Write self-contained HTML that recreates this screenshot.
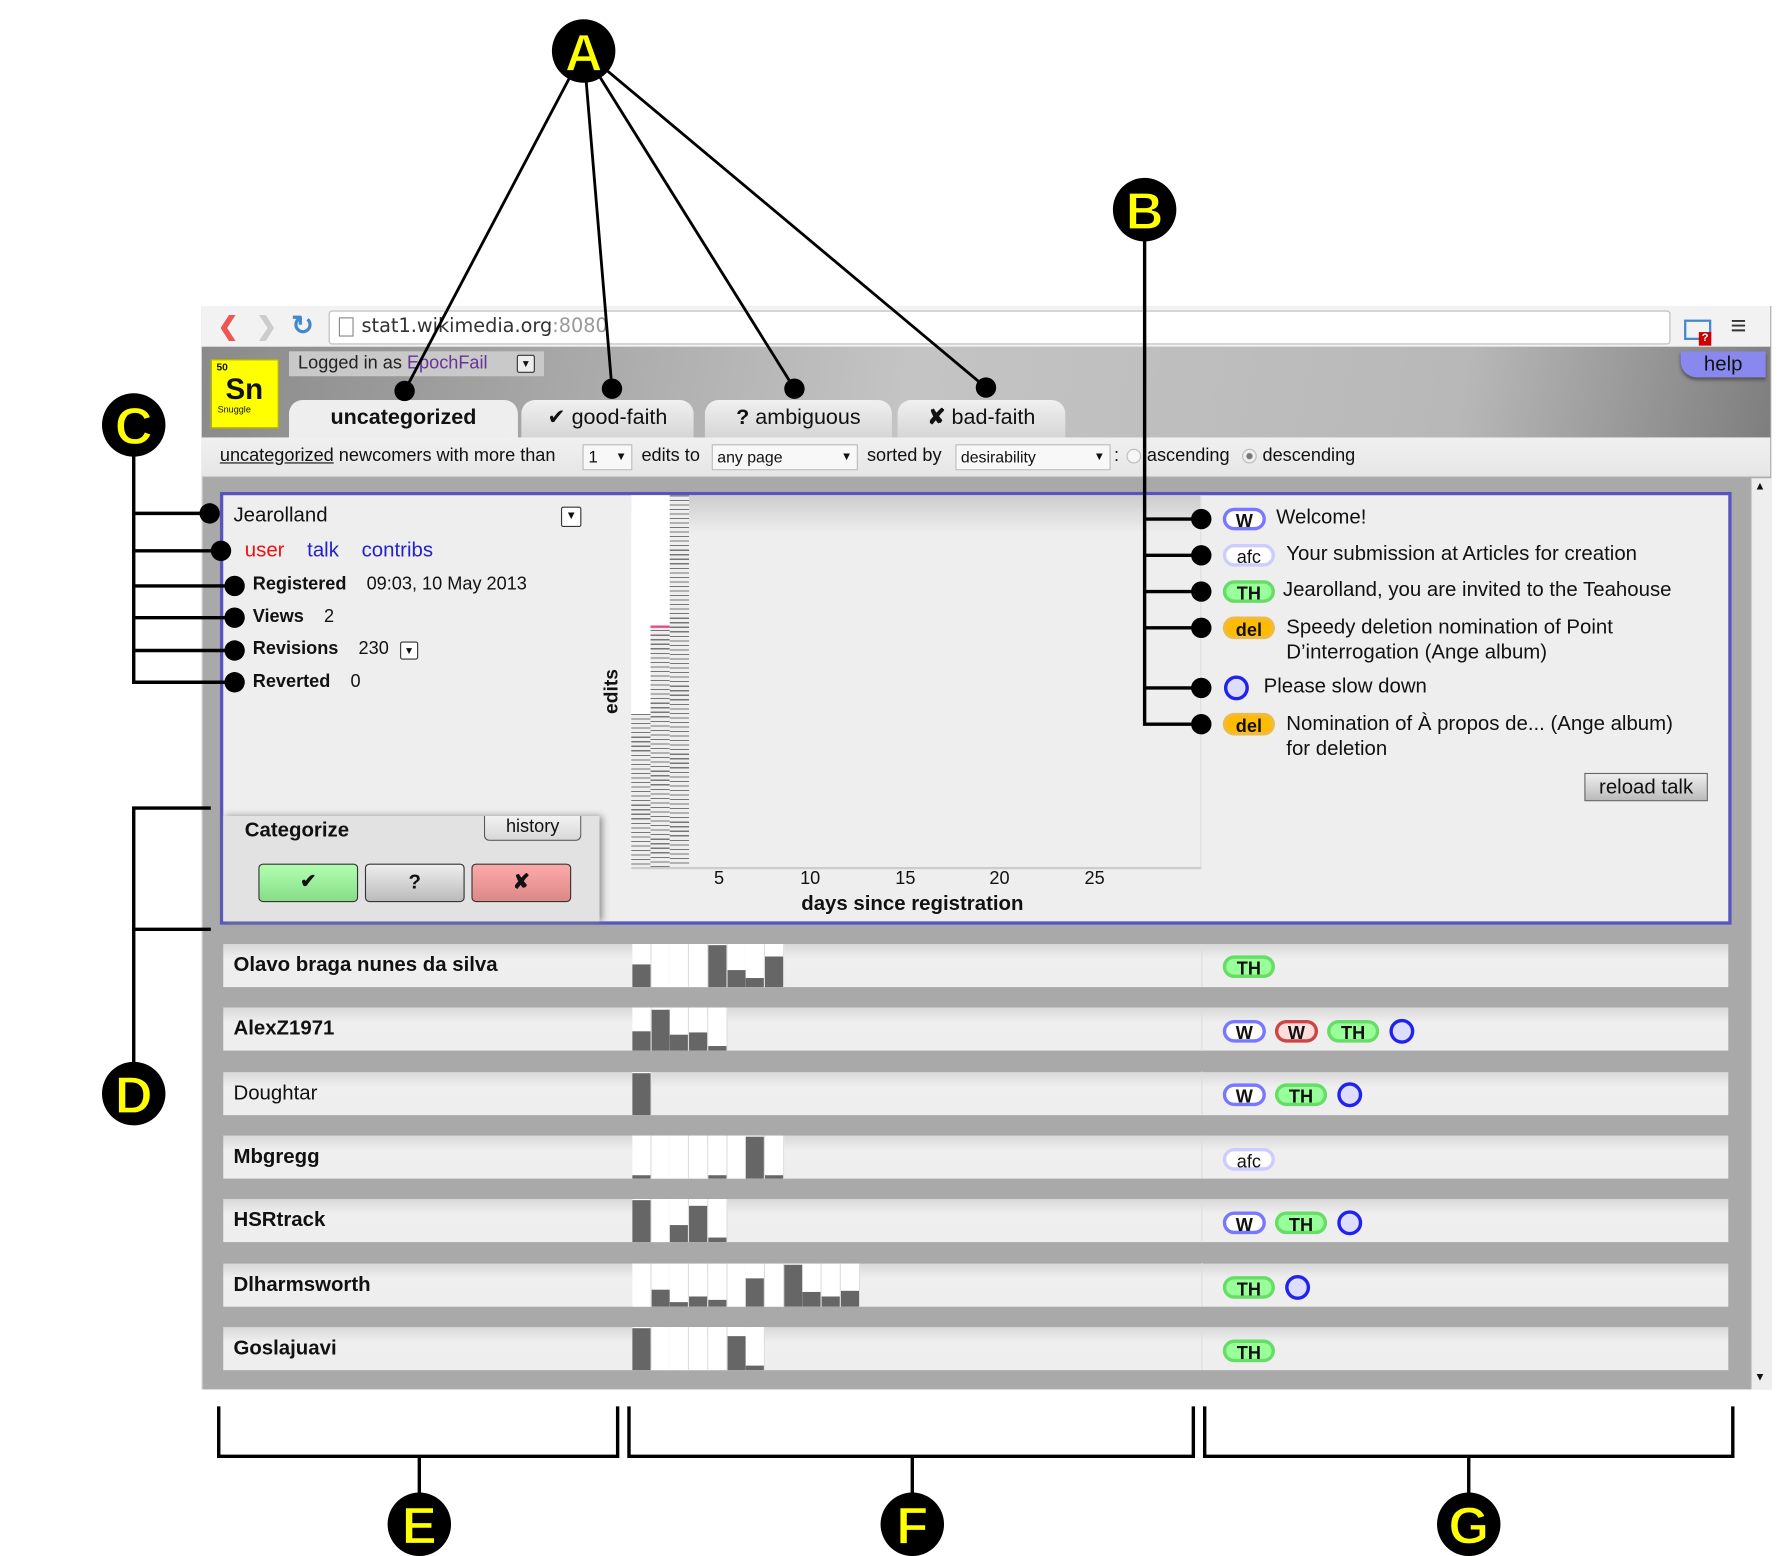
<!DOCTYPE html>
<html><head><meta charset="utf-8">
<style>
html,body{margin:0;padding:0;background:#fff;width:1777px;height:1556px;overflow:hidden}
#w{position:absolute;left:0;top:0;width:1568px;height:1373px;transform:scale(1.13329);transform-origin:0 0;font-family:"Liberation Sans",sans-serif;color:#111}
.a{position:absolute}
.t{position:absolute;white-space:nowrap}
.b{font-weight:bold}
.badge{position:absolute;height:20px;border-radius:11px;font:bold 16px "Liberation Sans",sans-serif;text-align:center;line-height:20px;box-sizing:border-box}
.W{background:#fff;border:3px solid #77f;width:38px}
.Wr{background:#fdd;border:3px solid #c44;width:38px}
.afc{background:#fff;border:3px solid #ccf;width:46px;font-weight:normal}
.TH{background:#9f9;border:3px solid #6d6;width:46px}
.del{background:#fb0;border:3px solid #eb4;width:46px}
.ring{position:absolute;width:22px;height:22px;border-radius:50%;border:3px solid #22e;background:#ddf;box-sizing:border-box}
.row{position:absolute;left:197px;width:1328px;height:38px;background:linear-gradient(#d8d8d8,#efefef 35%,#eee)}
.row .n{position:absolute;left:9px;top:8px;font-size:18px;font-weight:bold}
.col{position:absolute;top:0;width:16px;height:38px;background:#fff;border-right:1px solid #ddd}
.col i{position:absolute;left:0;right:0;bottom:0;background:#666}
.tab{position:absolute;top:353px;height:33px;background:linear-gradient(#f0f0f0,#d6d6d6);border-radius:12px 12px 0 0;font-size:19px;text-align:center;line-height:32px}
</style></head><body><div id="w">

<!-- browser chrome -->
<div class="a" style="left:178px;top:270px;width:1384px;height:956px;background:#a9a9a9;border-left:1px solid #ccc"></div>
<div class="a" style="left:178px;top:270px;width:1384px;height:36px;background:#f2f2f2"></div>
<div class="t" style="left:192px;top:275px;font-size:22px;color:#e55;font-weight:bold">&#x276E;</div>
<div class="t" style="left:226px;top:275px;font-size:22px;color:#ccc;font-weight:bold">&#x276F;</div>
<div class="t" style="left:257px;top:273px;font-size:24px;color:#48c;font-weight:bold">&#x21BB;</div>
<div class="a" style="left:290px;top:274px;width:1182px;height:28px;background:#fff;border:1px solid #bbb;border-radius:3px"></div>
<div class="a" style="left:299px;top:280px;width:11px;height:15px;border:1px solid #888;background:#fff"></div>
<div class="t" style="left:319px;top:278px;font-size:17px;font-family:'DejaVu Sans',sans-serif;color:#333">stat1.wikimedia.org<span style="color:#999">:8080</span></div>
<div class="a" style="left:1486px;top:282px;width:20px;height:14px;border:2px solid #48c"></div>
<div class="a" style="left:1499px;top:293px;width:11px;height:12px;background:#c00;color:#fff;font-size:10px;text-align:center;line-height:12px;font-weight:bold">?</div>
<div class="t" style="left:1527px;top:274px;font-size:24px;color:#333;font-weight:bold">&#x2261;</div>

<!-- header -->
<div class="a" style="left:178px;top:306px;width:1384px;height:80px;background:linear-gradient(100deg,#8a8a8a,#c4c4c4 45%,#b8b8b8 80%,#7e7e7e)"></div>
<div class="a" style="left:186px;top:317px;width:60px;height:61px;background:#ff0;border:1px solid #aa0;box-sizing:border-box"></div>
<div class="t" style="left:191px;top:319px;font-size:9px;font-weight:bold">50</div>
<div class="t b" style="left:199px;top:328px;font-size:26px">Sn</div>
<div class="t" style="left:192px;top:357px;font-size:8px">Snuggle</div>
<div class="a" style="left:255px;top:310px;width:225px;height:22px;background:#c9c9c9"></div>
<div class="t" style="left:263px;top:312px;font-size:16px;color:#222">Logged in as <span style="color:#639">EpochFail</span></div>
<div class="a" style="left:456px;top:313px;width:14px;height:14px;border:1px solid #333;border-radius:2px;background:#eee;font-size:9px;text-align:center;line-height:14px">&#x25BC;</div>
<div class="a" style="left:1483px;top:310px;width:75px;height:23px;background:#88e;border-radius:0 0 0 14px;box-shadow:0 2px 3px #555;font-size:18px;text-align:center;line-height:22px;color:#111">help</div>

<div class="tab" style="left:255px;width:202px;background:#eee;font-weight:bold">uncategorized</div>
<div class="tab" style="left:460px;width:152px">&#x2714; good-faith</div>
<div class="tab" style="left:622px;width:165px"><b>?</b> ambiguous</div>
<div class="tab" style="left:792px;width:148px"><b>&#x2718;</b> bad-faith</div>

<!-- filter bar -->
<div class="a" style="left:178px;top:386px;width:1384px;height:34px;background:linear-gradient(#f0f0f0,#e6e6e6);border-bottom:1px solid #ccc"></div>
<div class="t" style="left:194px;top:394px;font-size:16px"><u>uncategorized</u> newcomers with more than</div>
<div class="a" style="left:514px;top:392px;width:42px;height:21px;background:#f8f8f8;border:1px solid #bbb;font-size:15px;line-height:21px">&nbsp;1 <span style="position:absolute;right:4px;font-size:10px">&#x25BC;</span></div>
<div class="t" style="left:566px;top:394px;font-size:16px">edits to</div>
<div class="a" style="left:628px;top:392px;width:127px;height:21px;background:#f8f8f8;border:1px solid #bbb;font-size:14px;line-height:21px">&nbsp;any page<span style="position:absolute;right:4px;font-size:10px">&#x25BC;</span></div>
<div class="t" style="left:765px;top:394px;font-size:16px">sorted by</div>
<div class="a" style="left:843px;top:392px;width:135px;height:21px;background:#f8f8f8;border:1px solid #bbb;font-size:14px;line-height:21px">&nbsp;desirability<span style="position:absolute;right:4px;font-size:10px">&#x25BC;</span></div>
<div class="t" style="left:983px;top:394px;font-size:16px">:</div>
<div class="a" style="left:994px;top:396px;width:11px;height:11px;border-radius:50%;border:1px solid #bbb;background:#f6f6f6"></div>
<div class="t" style="left:1012px;top:394px;font-size:16px">ascending</div>
<div class="a" style="left:1096px;top:396px;width:11px;height:11px;border-radius:50%;border:1px solid #bbb;background:radial-gradient(#777 30%,#eee 40%)"></div>
<div class="t" style="left:1114px;top:394px;font-size:16px">descending</div>

<!-- scrollbar -->
<div class="a" style="left:1545px;top:422px;width:17px;height:804px;background:#eee;border-left:1px solid #ccc"></div>
<div class="t" style="left:1548px;top:424px;font-size:10px">&#x25B2;</div>
<div class="t" style="left:1548px;top:1210px;font-size:10px">&#x25BC;</div>

<!-- expanded panel -->
<div class="a" style="left:194px;top:434px;width:1334px;height:382px;background:#eee;border:3px solid #55b;box-sizing:border-box"></div>
<div class="t" style="left:206px;top:444px;font-size:18px">Jearolland</div>
<div class="a" style="left:495px;top:447px;width:16px;height:16px;border:1px solid #333;border-radius:2px;background:#fff;font-size:10px;text-align:center;line-height:16px">&#x25BC;</div>
<div class="t" style="left:216px;top:475px;font-size:18px"><span style="color:#e11">user</span>&nbsp;&nbsp;&nbsp; <span style="color:#22c">talk</span>&nbsp;&nbsp;&nbsp; <span style="color:#22c">contribs</span></div>
<div class="t" style="left:223px;top:507px;font-size:16px"><b>Registered</b>&nbsp;&nbsp;&nbsp; 09:03, 10 May 2013</div>
<div class="t" style="left:223px;top:536px;font-size:16px"><b>Views</b>&nbsp;&nbsp;&nbsp; 2</div>
<div class="t" style="left:223px;top:564px;font-size:16px"><b>Revisions</b>&nbsp;&nbsp;&nbsp; 230</div>
<div class="a" style="left:353px;top:566px;width:14px;height:14px;border:1px solid #333;border-radius:2px;background:#fff;font-size:9px;text-align:center;line-height:14px">&#x25BC;</div>
<div class="t" style="left:223px;top:593px;font-size:16px"><b>Reverted</b>&nbsp;&nbsp;&nbsp; 0</div>

<!-- categorize -->
<div class="a" style="left:197px;top:720px;width:332px;height:93px;background:#e2e2e2;box-shadow:2px 0 6px #888"></div>
<div class="t b" style="left:216px;top:722px;font-size:18px">Categorize</div>
<div class="a" style="left:427px;top:720px;width:84px;height:21px;background:linear-gradient(#f2f2f2,#d8d8d8);border:1px solid #555;border-top:none;border-radius:0 0 5px 5px;font-size:16px;text-align:center;line-height:20px">history</div>
<div class="a" style="left:228px;top:762px;width:86px;height:32px;background:linear-gradient(#b0ffb0,#88dd88);border:1px solid #333;border-radius:4px;text-align:center;line-height:30px;font-weight:bold;font-size:17px">&#x2714;</div>
<div class="a" style="left:322px;top:762px;width:86px;height:32px;background:linear-gradient(#eee,#bbb);border:1px solid #333;border-radius:4px;text-align:center;line-height:30px;font-weight:bold;font-size:18px">?</div>
<div class="a" style="left:416px;top:762px;width:86px;height:32px;background:linear-gradient(#ffaaaa,#dd8888);border:1px solid #333;border-radius:4px;text-align:center;line-height:30px;font-weight:bold;font-size:18px">&#x2718;</div>

<!-- chart -->
<div class="a" style="left:557px;top:437px;width:502px;height:328px;border-right:1px solid #ddd;border-bottom:2px solid #ccc;background:linear-gradient(#ccc,#eee 10%)"></div>
<div class="a" style="left:557px;top:437px;width:17px;height:328px;background:#fff"></div>
<div class="a" style="left:557px;top:630px;width:17px;height:135px;background:repeating-linear-gradient(#777 0 1px,#eee 1px 4px)"></div>
<div class="a" style="left:574px;top:437px;width:17px;height:328px;background:#fff"></div>
<div class="a" style="left:574px;top:552px;width:17px;height:213px;background:repeating-linear-gradient(#777 0 1px,#eee 1px 4px)"></div>
<div class="a" style="left:574px;top:552px;width:17px;height:2px;background:#e48"></div>
<div class="a" style="left:591px;top:437px;width:17px;height:328px;background:repeating-linear-gradient(#777 0 1px,#eee 1px 4px)"></div>
<div class="t b" style="left:530px;top:610px;font-size:17px;transform:rotate(-90deg);transform-origin:0 0;top:630px">edits</div>
<div class="t" style="left:630px;top:767px;font-size:16px">5</div>
<div class="t" style="left:706px;top:767px;font-size:16px">10</div>
<div class="t" style="left:790px;top:767px;font-size:16px">15</div>
<div class="t" style="left:873px;top:767px;font-size:16px">20</div>
<div class="t" style="left:957px;top:767px;font-size:16px">25</div>
<div class="t b" style="left:707px;top:787px;font-size:18px">days since registration</div>

<!-- talk list -->
<div class="badge W" style="left:1079px;top:448px">W</div>
<div class="t" style="left:1126px;top:446px;font-size:18px">Welcome!</div>
<div class="badge afc" style="left:1079px;top:480px">afc</div>
<div class="t" style="left:1135px;top:478px;font-size:18px">Your submission at Articles for creation</div>
<div class="badge TH" style="left:1079px;top:512px">TH</div>
<div class="t" style="left:1132px;top:510px;font-size:18px">Jearolland, you are invited to the Teahouse</div>
<div class="badge del" style="left:1079px;top:544px">del</div>
<div class="t" style="left:1135px;top:542px;font-size:18px;line-height:22px">Speedy deletion nomination of Point<br>D’interrogation (Ange album)</div>
<div class="ring" style="left:1080px;top:596px"></div>
<div class="t" style="left:1115px;top:595px;font-size:18px">Please slow down</div>
<div class="badge del" style="left:1079px;top:629px">del</div>
<div class="t" style="left:1135px;top:627px;font-size:18px;line-height:22px">Nomination of À propos de... (Ange album)<br>for deletion</div>
<div class="a" style="left:1398px;top:682px;width:107px;height:23px;background:linear-gradient(#eee,#bbb);border:1px solid #666;font-size:18px;text-align:center;line-height:22px">reload talk</div>

<!-- rows -->
<div class="row" style="top:833px"><div class="n">Olavo braga nunes da silva</div></div>
<div class="row" style="top:889px"><div class="n">AlexZ1971</div></div>
<div class="row" style="top:946px"><div class="n" style="font-weight:normal">Doughtar</div></div>
<div class="row" style="top:1002px"><div class="n">Mbgregg</div></div>
<div class="row" style="top:1058px"><div class="n">HSRtrack</div></div>
<div class="row" style="top:1115px"><div class="n">Dlharmsworth</div></div>
<div class="row" style="top:1171px"><div class="n">Goslajuavi</div></div>

<!-- row bars -->
<div class="a" style="left:558px;top:833px">
<div class="col" style="left:0"><i style="height:53%"></i></div><div class="col" style="left:16.7px"></div><div class="col" style="left:33.4px"></div><div class="col" style="left:50.1px"></div><div class="col" style="left:66.8px"><i style="height:97%"></i></div><div class="col" style="left:83.5px"><i style="height:40%"></i></div><div class="col" style="left:100.2px"><i style="height:20%"></i></div><div class="col" style="left:116.9px"><i style="height:70%"></i></div></div>
<div class="a" style="left:558px;top:889px">
<div class="col" style="left:0"><i style="height:45%"></i></div><div class="col" style="left:16.7px"><i style="height:95%"></i></div><div class="col" style="left:33.4px"><i style="height:38%"></i></div><div class="col" style="left:50.1px"><i style="height:42%"></i></div><div class="col" style="left:66.8px"><i style="height:10%"></i></div></div>
<div class="a" style="left:558px;top:946px"><div class="col" style="left:0"><i style="height:97%"></i></div></div>
<div class="a" style="left:558px;top:1002px">
<div class="col" style="left:0"><i style="height:8%"></i></div><div class="col" style="left:16.7px"></div><div class="col" style="left:33.4px"></div><div class="col" style="left:50.1px"></div><div class="col" style="left:66.8px"><i style="height:8%"></i></div><div class="col" style="left:83.5px"></div><div class="col" style="left:100.2px"><i style="height:97%"></i></div><div class="col" style="left:116.9px"><i style="height:8%"></i></div></div>
<div class="a" style="left:558px;top:1058px">
<div class="col" style="left:0"><i style="height:97%"></i></div><div class="col" style="left:16.7px"></div><div class="col" style="left:33.4px"><i style="height:40%"></i></div><div class="col" style="left:50.1px"><i style="height:85%"></i></div><div class="col" style="left:66.8px"><i style="height:10%"></i></div></div>
<div class="a" style="left:558px;top:1115px">
<div class="col" style="left:0"></div><div class="col" style="left:16.7px"><i style="height:40%"></i></div><div class="col" style="left:33.4px"><i style="height:10%"></i></div><div class="col" style="left:50.1px"><i style="height:25%"></i></div><div class="col" style="left:66.8px"><i style="height:15%"></i></div><div class="col" style="left:83.5px"></div><div class="col" style="left:100.2px"><i style="height:65%"></i></div><div class="col" style="left:116.9px"></div><div class="col" style="left:133.6px"><i style="height:97%"></i></div><div class="col" style="left:150.3px"><i style="height:35%"></i></div><div class="col" style="left:167px"><i style="height:25%"></i></div><div class="col" style="left:183.7px"><i style="height:38%"></i></div></div>
<div class="a" style="left:558px;top:1171px">
<div class="col" style="left:0"><i style="height:97%"></i></div><div class="col" style="left:16.7px"></div><div class="col" style="left:33.4px"></div><div class="col" style="left:50.1px"></div><div class="col" style="left:66.8px"></div><div class="col" style="left:83.5px"><i style="height:80%"></i></div><div class="col" style="left:100.2px"><i style="height:10%"></i></div></div>

<!-- row dividers -->
<div class="a" style="left:1060px;top:833px;width:1px;height:376px;background:repeating-linear-gradient(#ddd 0 38px,transparent 38px 56.3px)"></div>

<!-- row badges -->
<div class="badge TH" style="left:1079px;top:843px">TH</div>
<div class="badge W" style="left:1079px;top:900px">W</div>
<div class="badge Wr" style="left:1125px;top:900px">W</div>
<div class="badge TH" style="left:1171px;top:900px">TH</div>
<div class="ring" style="left:1226px;top:899px"></div>
<div class="badge W" style="left:1079px;top:956px">W</div>
<div class="badge TH" style="left:1125px;top:956px">TH</div>
<div class="ring" style="left:1180px;top:955px"></div>
<div class="badge afc" style="left:1079px;top:1013px">afc</div>
<div class="badge W" style="left:1079px;top:1069px">W</div>
<div class="badge TH" style="left:1125px;top:1069px">TH</div>
<div class="ring" style="left:1180px;top:1068px"></div>
<div class="badge TH" style="left:1079px;top:1126px">TH</div>
<div class="ring" style="left:1134px;top:1125px"></div>
<div class="badge TH" style="left:1079px;top:1182px">TH</div>

<!-- annotations -->
<svg class="a" style="left:0;top:0" width="1568" height="1373" viewBox="0 0 1568 1373">
<g stroke="#000" stroke-width="2.5" fill="none">
<line x1="515" y1="45" x2="357" y2="345"/><line x1="515" y1="45" x2="540" y2="343"/>
<line x1="515" y1="45" x2="701" y2="343"/><line x1="515" y1="45" x2="870" y2="342"/>
<polyline points="1010,185 1010,639 1060,639" stroke-width="3"/>
<line x1="1010" y1="458" x2="1060" y2="458" stroke-width="3"/><line x1="1010" y1="490" x2="1060" y2="490" stroke-width="3"/>
<line x1="1010" y1="522" x2="1060" y2="522" stroke-width="3"/><line x1="1010" y1="554" x2="1060" y2="554" stroke-width="3"/>
<line x1="1010" y1="607" x2="1060" y2="607" stroke-width="3"/>
<polyline points="118,375 118,602 207,602" stroke-width="3"/>
<line x1="118" y1="453" x2="185" y2="453" stroke-width="3"/><line x1="118" y1="486" x2="195" y2="486" stroke-width="3"/>
<line x1="118" y1="517" x2="207" y2="517" stroke-width="3"/><line x1="118" y1="545" x2="207" y2="545" stroke-width="3"/>
<line x1="118" y1="574" x2="207" y2="574" stroke-width="3"/>
<polyline points="186,713 118,713 118,820 186,820" stroke-width="3"/><line x1="118" y1="820" x2="118" y2="965" stroke-width="3"/>
<polyline points="193,1241 193,1285 545,1285 545,1241" stroke-width="3"/><line x1="370" y1="1285" x2="370" y2="1345" stroke-width="3"/>
<polyline points="555,1241 555,1285 1053,1285 1053,1241" stroke-width="3"/><line x1="805" y1="1285" x2="805" y2="1345" stroke-width="3"/>
<polyline points="1063,1241 1063,1285 1529,1285 1529,1241" stroke-width="3"/><line x1="1296" y1="1285" x2="1296" y2="1345" stroke-width="3"/>
</g>
<g fill="#000">
<circle cx="357" cy="345" r="9"/><circle cx="540" cy="343" r="9"/><circle cx="701" cy="343" r="9"/><circle cx="870" cy="342" r="9"/>
<circle cx="1060" cy="458" r="9"/><circle cx="1060" cy="490" r="9"/><circle cx="1060" cy="522" r="9"/><circle cx="1060" cy="554" r="9"/><circle cx="1060" cy="607" r="9"/><circle cx="1060" cy="639" r="9"/>
<circle cx="185" cy="453" r="9"/><circle cx="195" cy="486" r="9"/><circle cx="207" cy="517" r="9"/><circle cx="207" cy="545" r="9"/><circle cx="207" cy="574" r="9"/><circle cx="207" cy="602" r="9"/>
<circle cx="515" cy="45" r="28"/><circle cx="1010" cy="185" r="28"/><circle cx="118" cy="375" r="28"/><circle cx="118" cy="965" r="28"/>
<circle cx="370" cy="1345" r="28"/><circle cx="805" cy="1345" r="28"/><circle cx="1296" cy="1345" r="28"/>
</g>
<g fill="#ff0" stroke="#000" stroke-width="1" font-family="Liberation Sans,sans-serif" font-weight="bold" font-size="46" text-anchor="middle">
<text x="515" y="62">A</text><text x="1010" y="202">B</text><text x="118" y="392">C</text><text x="118" y="982">D</text>
<text x="370" y="1362">E</text><text x="805" y="1362">F</text><text x="1296" y="1362">G</text>
</g>
</svg>
</div></body></html>
